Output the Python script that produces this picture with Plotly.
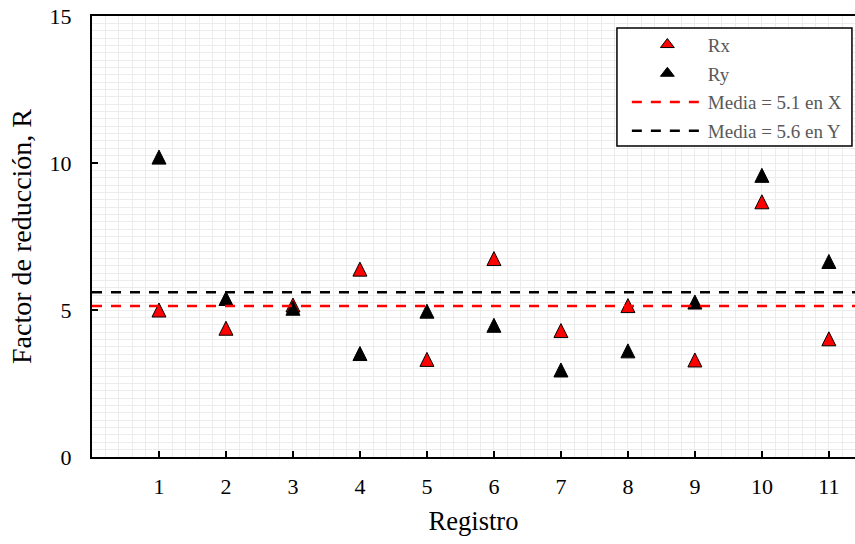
import plotly.graph_objects as go

# Registros sísmicos y factores de reducción
registros = [1, 2, 3, 4, 5, 6, 7, 8, 9, 10, 11]
rx = [5.0, 4.38, 5.17, 6.39, 3.32, 6.75, 4.30, 5.15, 3.30, 8.68, 4.02]
ry = [10.2, 5.39, 5.06, 3.52, 4.96, 4.48, 2.96, 3.61, 5.27, 9.58, 6.65]

x_range = [0, 11.39]
y_ticks = [0, 5, 10, 15]

media_x = sum(rx) / len(rx)
media_y = sum(ry) / len(ry)

SERIF = "Liberation Serif, Times New Roman, serif"
MSIZE = 14


def tri(name, ys, color):
    # upward triangle, centred on the value (arrow flipped and shifted by half its height)
    return go.Scatter(
        x=registros, y=ys, mode="markers", name=name, showlegend=False,
        marker=dict(symbol="arrow-down", angle=180, standoff=MSIZE / 2,
                    size=MSIZE, color=color, line=dict(color="black", width=1)),
    )


def tri_key(name, color, group):
    # legend entry for a marker series
    return go.Scatter(
        x=[None], y=[None], mode="markers", name=name, legendgroup=group,
        marker=dict(symbol="triangle-up", size=12, color=color,
                    line=dict(color="black", width=1)),
    )


fig = go.Figure()
fig.add_trace(tri("Rx", rx, "#ff0000"))
fig.add_trace(tri("Ry", ry, "#000000"))
fig.add_trace(tri_key("Rx", "#ff0000", "a"))
fig.add_trace(tri_key("Ry", "#000000", "b"))
fig.add_trace(go.Scatter(
    x=x_range, y=[media_x, media_x], mode="lines", legendgroup="c",
    name=f"Media = {media_x:.1f} en X",
    line=dict(color="#ff0000", width=2.5, dash="10px,9px"),
))
fig.add_trace(go.Scatter(
    x=x_range, y=[media_y, media_y], mode="lines", legendgroup="d",
    name=f"Media = {media_y:.1f} en Y",
    line=dict(color="#000000", width=2.5, dash="10px,9px"),
))

# legend frame
fig.add_shape(type="rect", xref="paper", yref="paper",
              x0=0.688, x1=0.996, y0=0.7052, y1=0.9728,
              fillcolor="white", line=dict(color="black", width=1.5),
              layer="above")

grid = "#ececec"
fig.update_layout(
    width=855, height=544,
    margin=dict(l=92, r=0, t=16, b=87),
    paper_bgcolor="white", plot_bgcolor="white",
    font=dict(family=SERIF, color="black", size=22),
    showlegend=True,
    legend=dict(
        x=0.701, y=0.978, xanchor="left", yanchor="top",
        bgcolor="rgba(0,0,0,0)", borderwidth=0,
        font=dict(family=SERIF, size=19, color="#595959"),
        itemwidth=71, tracegroupgap=1,
    ),
    xaxis=dict(
        range=x_range, tickvals=registros, ticks="inside", ticklen=6,
        tickwidth=2, tickcolor="black", showline=True, linecolor="black",
        linewidth=2, mirror=True, showgrid=True, gridcolor=grid, gridwidth=1,
        zeroline=False, ticklabelstandoff=9,
        minor=dict(dtick=0.2, tick0=0, showgrid=True, gridcolor=grid,
                   gridwidth=1, ticks=""),
        title=dict(text="Registro", font=dict(size=26.5), standoff=13),
    ),
    yaxis=dict(
        range=[0, 15], tickvals=y_ticks, ticks="inside", ticklen=6,
        tickwidth=2, tickcolor="black", showline=True, linecolor="black",
        linewidth=2, showgrid=True, gridcolor=grid, gridwidth=1,
        zeroline=False, ticklabelstandoff=14,
        minor=dict(dtick=0.25, tick0=0, showgrid=True, gridcolor=grid,
                   gridwidth=1, ticks=""),
        title=dict(text="Factor de reducción, R", font=dict(size=28), standoff=10),
    ),
)

fig.write_html("out.html")
